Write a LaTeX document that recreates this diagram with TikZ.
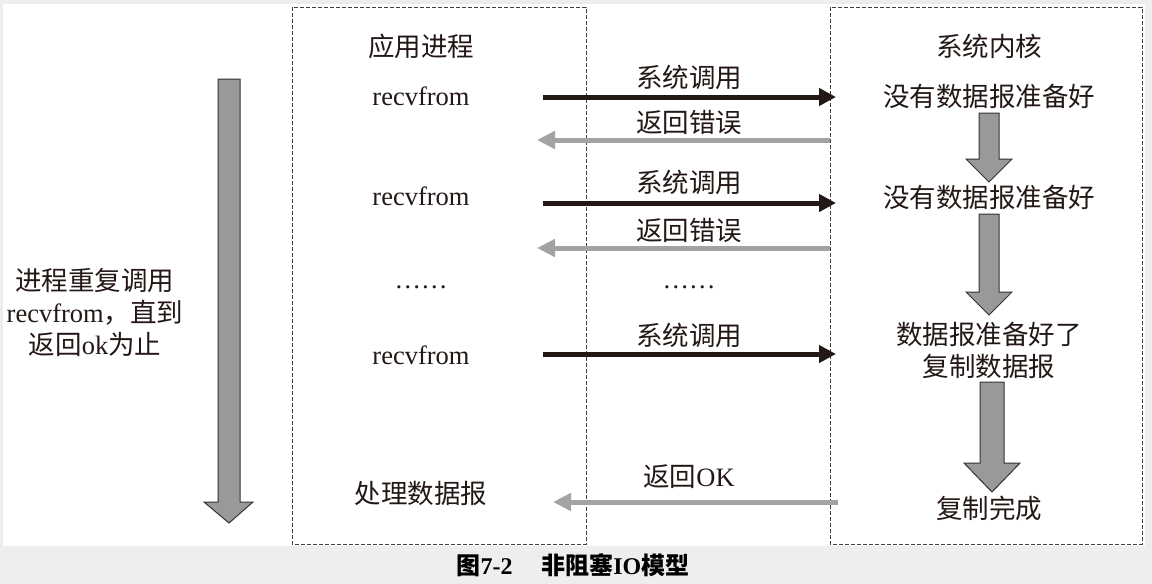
\documentclass[tikz,border=0pt]{standalone}
\usepackage{fontspec}
\setmainfont{Liberation Serif}
\newfontfamily\cjk{Noto Sans CJK SC}
\usetikzlibrary{arrows.meta}
\definecolor{ink}{HTML}{231815}
\definecolor{pale}{HTML}{A3A3A3}
\definecolor{panel}{HTML}{EEEEEE}
\tikzset{
  txt/.style={font=\fontsize{26.5}{32}\selectfont, text=ink, inner sep=0pt, align=center},
  call/.style={draw=ink, line width=5pt, -{Triangle[length=17pt,width=17pt]}},
  back/.style={draw=pale, line width=5pt, -{Triangle[length=18pt,width=17pt]}},
  frame/.style={draw=black!75, line width=0.8pt, dash pattern=on 4pt off 2pt},
  block/.style={draw=black!80, fill=black!40, line width=1pt},
}
\begin{document}
\begin{tikzpicture}[x=1pt,y=-1pt]
   \useasboundingbox (0,0) rectangle (1152,584);
   \fill[panel] (0,0) rectangle (1152,584);
   \fill[white] (3,4) rectangle (1145,546);

   \draw[frame] (292,7) rectangle (586,544);
   \draw[frame] (830,7) rectangle (1142,544);

   \draw[block] (218,79) -- (240,79) -- (240,502) -- (253,502) -- (229,523)
      -- (204,502) -- (218,502) -- cycle;
   \node[txt] (loop) at (95,312) {{\cjk 进程重复调用}\\recvfrom{\cjk ，直到}\\{\cjk 返回}ok{\cjk 为止}};

   \node[txt] (app) at (421,46) {\cjk 应用进程};
   \node[txt] (kern) at (989,46) {\cjk 系统内核};

   \node[txt] (r1) at (421,96) {recvfrom};
   \node[txt] (r2) at (421,196) {recvfrom};
   \node[txt] (d1) at (421,287) {\ldots\ldots};
   \node[txt] (r3) at (421,355) {recvfrom};
   \node[txt] (done) at (421,493) {\cjk 处理数据报};

   \node[txt] (n1) at (989,96) {\cjk 没有数据报准备好};
   \node[txt] (n2) at (989,197) {\cjk 没有数据报准备好};
   \node[txt] (ready) at (989,350) {{\cjk 数据报准备好了}\\{\cjk 复制数据报}};
   \node[txt] (copied) at (989,508) {\cjk 复制完成};

   \node[txt] (c1) at (689,77) {\cjk 系统调用};
   \node[txt] (e1) at (689,122) {\cjk 返回错误};
   \node[txt] (c2) at (689,182) {\cjk 系统调用};
   \node[txt] (e2) at (689,230) {\cjk 返回错误};
   \node[txt] (d2) at (689,287) {\ldots\ldots};
   \node[txt] (c3) at (689,335) {\cjk 系统调用};
   \node[txt] (ok) at (689,477) {{\cjk 返回}OK};

   \coordinate (a1) at (543,97);   \coordinate (b1) at (836,97);
   \coordinate (a2) at (830,140);  \coordinate (b2) at (537,140);
   \coordinate (a3) at (543,203);  \coordinate (b3) at (836,203);
   \coordinate (a4) at (830,248);  \coordinate (b4) at (537,248);
   \coordinate (a5) at (543,354);  \coordinate (b5) at (836,354);
   \coordinate (a6) at (838,502);  \coordinate (b6) at (553,502);
   \draw[call] (a1) -- (b1);
   \draw[back] (a2) -- (b2);
   \draw[call] (a3) -- (b3);
   \draw[back] (a4) -- (b4);
   \draw[call] (a5) -- (b5);
   \draw[back] (a6) -- (b6);

   \draw[block] (979,113) -- (999,113) -- (999,159) -- (1012,159) -- (989,182)
      -- (966,159) -- (979,159) -- cycle;
   \draw[block] (979,214) -- (999,214) -- (999,292) -- (1012,292) -- (989,315)
      -- (966,292) -- (979,292) -- cycle;
   \draw[block] (980,382) -- (1004,382) -- (1004,463) -- (1020,463) -- (992,492)
      -- (964,463) -- (980,463) -- cycle;

   \node[font=\fontsize{24}{28}\selectfont] (cap) at (573,565)
      {{\cjk\bfseries 图}\textbf{7-2}\hspace{1.2em}{\cjk\bfseries 非阻塞}\textbf{IO}{\cjk\bfseries 模型}};
\end{tikzpicture}
\end{document}
